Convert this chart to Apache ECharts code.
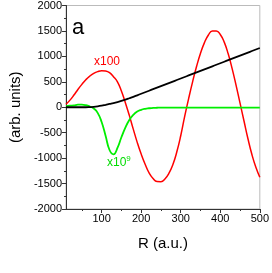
<!DOCTYPE html>
<html><head><meta charset="utf-8">
<script src="https://cdn.jsdelivr.net/npm/echarts@6/dist/echarts.min.js"></script>
<style>html,body{margin:0;padding:0;background:#fff}#c{width:272px;height:273px}</style>
</head><body><div id="c"></div>
<script>
var xs = [10,20,30,40,50,60,70,80,90,100,110,120,130,140,150,160,170,180,190,200,210,220,230,240,250,260,270,280,290,300,310,320,330,340,350,360,370,380,390,400,410,420,430,440,450,460,470,480,490,500];
var blackVals = [0,0,0,0,0,0,3,8,17,30,47,65,83,103,125,150,177,205,235,265,295,325,355,385,415,445,475,505,535,565,595,625,655,685,715,745,775,805,835,865,895,925,955,985,1015,1045,1075,1105,1135,1165];
var redVals = [60,140,240,350,450,540,612,665,700,718,712,680,600,500,320,90,-160,-430,-690,-920,-1120,-1290,-1400,-1460,-1462,-1410,-1300,-1130,-880,-560,-180,170,500,800,1060,1270,1420,1500,1500,1430,1280,1050,760,430,80,-270,-620,-930,-1180,-1375];
var greenVals = [20,30,35,50,50,40,15,-25,-110,-290,-560,-840,-925,-800,-590,-400,-250,-150,-85,-50,-30,-20,-14,-10,-7,-6,-6,-6,-6,-6,-6,-6,-6,-6,-6,-6,-6,-6,-6,-6,-6,-6,-6,-6,-6,-6,-6,-6,-6,-6];
var xMajor = [100,200,300,400,500];
var xMinor = [50,150,250,350,450];

function pairs(v){ return xs.map(function(x,i){ return [x, v[i]]; }); }
var F = "'Liberation Sans Narrow','Liberation Sans',Arial,sans-serif";
var chart = echarts.init(document.getElementById('c'), null, {renderer:'canvas'});
chart.setOption({
  animation:false,
  grid:{left:66,right:8,top:5,bottom:64,show:true,borderColor:'#bbbbbb',borderWidth:1},
  xAxis:[{
    type:'value',min:10,max:500,
    name:'R (a.u.)',nameLocation:'middle',nameGap:27,
    nameTextStyle:{fontFamily:F,fontSize:15,color:'#000'},
    axisLine:{show:true,onZero:false,lineStyle:{color:'#333',width:1}},
    axisTick:{show:true,length:4,customValues:xMajor,lineStyle:{color:'#333'}},
    axisLabel:{show:true,customValues:xMajor,fontFamily:F,fontSize:11,color:'#000',margin:4,formatter:function(v){return String(v);}},
    splitLine:{show:false}
  },{
    type:'value',min:10,max:500,position:'bottom',
    axisLine:{show:false,onZero:false},
    axisTick:{show:true,length:2,customValues:xMinor,lineStyle:{color:'#333'}},
    axisLabel:{show:false},splitLine:{show:false}
  }],
  yAxis:{
    type:'value',min:-2000,max:2000,interval:500,
    name:'(arb. units)',nameLocation:'middle',nameGap:40,
    nameTextStyle:{fontFamily:F,fontSize:15,color:'#000'},
    axisLine:{show:true,onZero:false,lineStyle:{color:'#333',width:1}},
    axisTick:{show:true,length:4,lineStyle:{color:'#333'}},
    minorTick:{show:true,splitNumber:2,length:2,lineStyle:{color:'#333'}},
    axisLabel:{fontFamily:F,fontSize:11,color:'#000',margin:4,formatter:function(v){return String(v);}},
    splitLine:{show:false}
  },
  series:[
    {type:'line',data:pairs(redVals),smooth:true,symbol:'none',lineStyle:{color:'#ff0000',width:1.5}},
    {type:'line',data:pairs(greenVals),smooth:true,symbol:'none',lineStyle:{color:'#00ee00',width:1.8}},
    {type:'line',data:pairs(blackVals),smooth:true,symbol:'none',lineStyle:{color:'#000',width:1.8}}
  ],
  graphic:[
    {type:'text',left:72,top:17,style:{text:'a',font:"22px "+F,fill:'#000'}},
    {type:'text',left:94,top:56,style:{text:'x100',font:"12px "+F,fill:'#ff0000'}},
    {type:'text',left:107,top:155,style:{text:'{b|x10}{s|9}',fill:'#00dd00',rich:{b:{fontFamily:F,fontSize:12,fill:'#00dd00',verticalAlign:'bottom'},s:{fontFamily:F,fontSize:8,fill:'#00dd00',verticalAlign:'top',padding:[0,0,6,0]}}}}
  ]
});
</script></body></html>
